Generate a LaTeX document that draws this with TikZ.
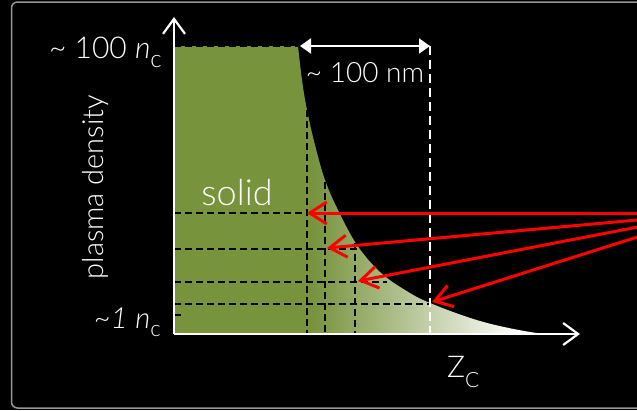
\documentclass[tikz,border=0pt]{standalone}
\usepackage{fontspec}
\setmainfont{Lato}[UprightFont={* Light},ItalicFont={* Light Italic}]
\usetikzlibrary{arrows.meta}
\definecolor{pgreen}{RGB}{119,147,60}
\definecolor{framegray}{RGB}{150,150,150}
\begin{document}
\begin{tikzpicture}[x=1pt,y=-1pt,
  lbl/.style={text=white,inner sep=0pt},
  blackdash/.style={black,line width=1.8pt,dash pattern=on 7pt off 4pt},
  whitedash/.style={white,line width=2.2pt,dash pattern=on 9pt off 5pt},
  axisline/.style={white,line width=2.2pt,-{Straight Barb[length=15pt,width=22pt]}},
  ray/.style={red,line width=3pt,-{Straight Barb[length=17pt,width=22pt]}},
  dimline/.style={white,line width=2pt,{Triangle[length=11pt,width=15pt]}-{Triangle[length=11pt,width=15pt]}}]
\useasboundingbox (0,0) rectangle (637,410);
\fill[black] (0,0) rectangle (637,410);
\draw[framegray,line width=1.5pt,rounded corners=6pt] (11.5,2) rectangle (700,408);

% density profile
\begin{scope}
\clip (174,334) -- (174,46) -- plot[smooth,tension=0.6] coordinates {(298,46) (302,80) (307,110) (315,145) (325,180) (338,210) (357,245) (380,272) (405,290) (430,303) (480,321) (530,332) (560,334.5)} -- cycle;
\fill[pgreen] (170,40) rectangle (313,340);
\shade[left color=pgreen,right color=white] (312,40) rectangle (520,340);
\fill[white] (519,40) rectangle (570,340);
\end{scope}

% coordinates
\coordinate (O) at (174,334);
\coordinate (ytop) at (174,17);
\coordinate (xend) at (580,334);
\coordinate (h0) at (174,46);
\coordinate (c0) at (298,46);
\coordinate (h1) at (174,213);
\coordinate (h2) at (174,249);
\coordinate (h3) at (174,282);
\coordinate (h4) at (174,304);
\coordinate (t1) at (307,213);
\coordinate (t2) at (327,248);
\coordinate (t3) at (358,281);
\coordinate (t4) at (432,302);
\coordinate (e2) at (363,249);
\coordinate (e3) at (387,282);
\coordinate (e4) at (430,304);
\coordinate (v1) at (307,110);
\coordinate (v2) at (325,182);
\coordinate (v3) at (355,243);
\coordinate (b1) at (307,334);
\coordinate (b2) at (325,334);
\coordinate (b3) at (355,334);
\coordinate (d1) at (300,46);
\coordinate (d2) at (430,46);
\coordinate (b4) at (430,334);
\coordinate (s1) at (645,213);
\coordinate (s2) at (645,219.3);
\coordinate (s3) at (645,225.6);
\coordinate (s4) at (645,234.6);
\coordinate (k1) at (172,315);
\coordinate (k2) at (181,315);

% black dashed guides
\draw[blackdash] (h0) -- (c0);
\draw[blackdash] (h1) -- (t1);
\draw[blackdash] (h2) -- (e2);
\draw[blackdash] (h3) -- (e3);
\draw[blackdash] (h4) -- (e4);
\draw[blackdash] (v1) -- (b1);
\draw[blackdash] (v2) -- (b2);
\draw[blackdash] (v3) -- (b3);
\draw[black,line width=2pt] (k1) -- (k2);

% axes
\draw[axisline] (O) -- (ytop);
\draw[axisline] (O) -- (xend);

% white dashed and dimension
\draw[whitedash] (d2) -- (b4);
\draw[dimline] (d1) -- (d2);

% laser rays
\draw[ray] (s1) -- (t1);
\draw[ray] (s2) -- (t2);
\draw[ray] (s3) -- (t3);
\draw[ray] (s4) -- (t4);

% labels
\node[lbl,anchor=base east,font=\fontsize{30}{36}\selectfont] (ltop) at (162,58)
  {\textasciitilde\ 100 \textit{n}\raisebox{-9pt}{\fontsize{24}{29}\selectfont c}};
\node[lbl,anchor=base east,font=\fontsize{29}{34}\selectfont] (lone) at (161,328)
  {\textasciitilde\textit{1} \textit{n}\raisebox{-8pt}{\fontsize{22}{26}\selectfont c}};
\node[lbl,anchor=base,font=\fontsize{28}{34}\selectfont] (lnm) at (365,82) {\textasciitilde\ 100 nm};
\node[lbl,anchor=base,font=\fontsize{36}{42}\selectfont] (lsolid) at (237,205) {solid};
\node[lbl,anchor=base,rotate=90,font=\fontsize{29}{34}\selectfont] (lden) at (103,187) {plasma density};
\node[lbl,anchor=base west,font=\fontsize{30}{36}\selectfont] (lz) at (447,377)
  {Z\raisebox{-10pt}{\fontsize{21}{25}\selectfont C}};
\end{tikzpicture}
\end{document}
